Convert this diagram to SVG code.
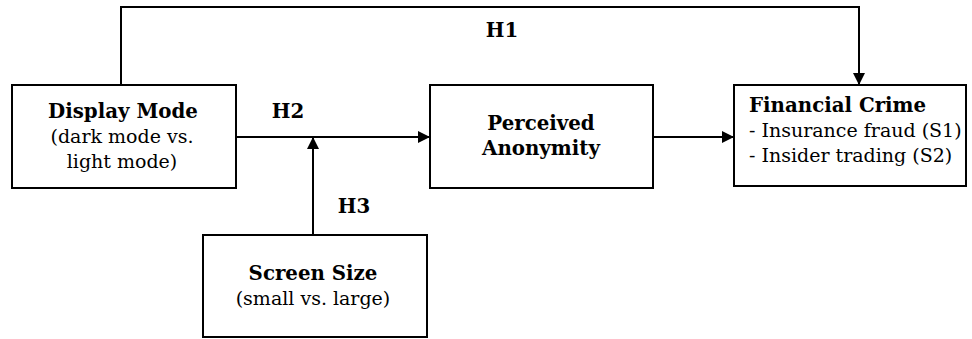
<svg xmlns="http://www.w3.org/2000/svg" width="972" height="339" viewBox="0 0 972 339">
<defs>
<marker id="ah" markerWidth="12" markerHeight="12" refX="12" refY="6" orient="auto" markerUnits="userSpaceOnUse">
<path d="M0,0 L12,6 L0,12 Z" fill="#000"/>
</marker>
<style>
.box{fill:#fff;stroke:#000;stroke-width:2}
.ln{fill:none;stroke:#000;stroke-width:2}
.b{font-family:"DejaVu Serif","Liberation Serif",serif;font-weight:bold;font-size:19.8px;fill:#000}
.r{font-family:"DejaVu Serif","Liberation Serif",serif;font-size:19px;fill:#000}
.m{text-anchor:middle}
</style>
</defs>
<rect width="972" height="339" fill="#fff"/>
<g id="connectors">
<path class="ln" d="M121,85 V7 H859 V85" marker-end="url(#ah)"/>
<path class="ln" d="M236,137 H430" marker-end="url(#ah)"/>
<path class="ln" d="M313,235 V137" marker-end="url(#ah)"/>
<path class="ln" d="M653,137 H734" marker-end="url(#ah)"/>
<text class="b m" x="502" y="37">H1</text>
<text class="b m" x="288" y="118">H2</text>
<text class="b m" x="354" y="213">H3</text>
</g>
<g id="display-mode">
<rect class="box" x="12" y="85" width="224" height="103"/>
<text class="b m" x="123" y="118">Display Mode</text>
<text class="r m" x="122" y="143">(dark mode vs.</text>
<text class="r m" x="122" y="168">light mode)</text>
</g>
<g id="perceived-anonymity">
<rect class="box" x="430" y="85" width="223" height="103"/>
<text class="b m" x="541" y="130">Perceived</text>
<text class="b m" x="541" y="155">Anonymity</text>
</g>
<g id="financial-crime">
<rect class="box" x="734" y="85" width="232" height="101"/>
<text class="b" x="749" y="112">Financial Crime</text>
<text class="r" x="749" y="137">- Insurance fraud (S1)</text>
<text class="r" x="749" y="162">- Insider trading (S2)</text>
</g>
<g id="screen-size">
<rect class="box" x="203" y="235" width="224" height="102"/>
<text class="b m" x="313" y="280">Screen Size</text>
<text class="r m" x="313" y="305">(small vs. large)</text>
</g>
</svg>
